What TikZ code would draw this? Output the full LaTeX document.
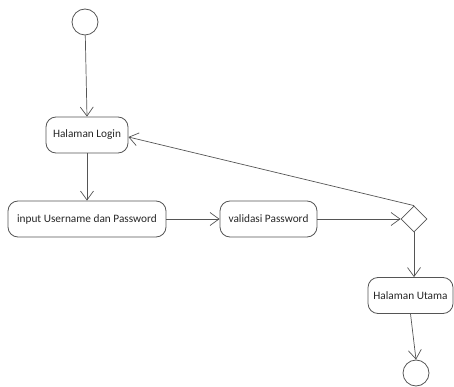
\documentclass[tikz,border=0pt]{standalone}
\usepackage{fontspec}
\setmainfont{Carlito}
\usetikzlibrary{arrows.meta,shapes.geometric}
\definecolor{ln}{HTML}{555555}
\tikzset{
  act/.style={draw=ln, line width=0.8pt, rounded corners=10pt, minimum height=36pt, inner sep=0pt, font=\fontsize{11.3}{13}\selectfont, text=black!85},
  ini/.style={circle, draw=ln, line width=0.8pt, minimum size=26pt, inner sep=0pt},
  dec/.style={diamond, draw=ln, line width=0.8pt, minimum width=26pt, minimum height=26pt, inner sep=0pt},
  flow/.style={draw=ln, line width=0.7pt, -{Straight Barb[length=9pt,width=13pt]}}
}
\begin{document}
\begin{tikzpicture}[x=1pt,y=-1pt]
\useasboundingbox (0,0) rectangle (454,387);
\node[ini] (s) at (85,22) {};
\node[act, minimum width=82pt] (login) at (87,135) {Halaman Login};
\node[act, minimum width=158pt] (input) at (87,219) {input Username dan Password};
\node[act, minimum width=97pt] (val) at (268.5,219) {validasi Password};
\node[dec] (d) at (414,219) {};
\node[act, minimum width=85pt] (utama) at (410.5,295.5) {Halaman Utama};
\node[ini] (e) at (416,373) {};
\draw[flow] (s) -- (login.north);
\draw[flow] (login) -- (input);
\draw[flow] (input) -- (val);
\draw[flow] (val) -- (d.west);
\draw[flow] (d.north) -- (login.east |- 0,137);
\draw[flow] (d.south) -- (utama.north -| d.south);
\draw[flow] (utama.south) -- (e.north);
\end{tikzpicture}
\end{document}
